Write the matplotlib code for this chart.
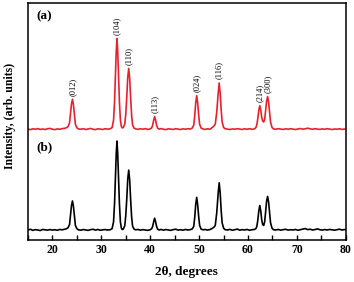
import matplotlib
matplotlib.use("Agg")
import matplotlib.pyplot as plt
from matplotlib.ticker import MultipleLocator

two_theta = [
    15.0, 15.5, 16.0, 16.5, 17.0, 17.5, 18.0, 18.5, 19.0, 19.5, 20.0, 20.5, 21.0, 21.5, 22.0, 22.5,
    22.9, 23.2, 23.5, 23.7, 23.9, 24.1, 24.3, 24.5, 24.7, 25.0, 25.3,
    25.8, 26.3, 26.8, 27.3, 27.8, 28.3, 28.8, 29.3, 29.8, 30.3, 30.8, 31.3, 31.8, 32.2,
    32.5, 32.7, 32.9, 33.05, 33.2, 33.35, 33.5, 33.7, 33.9, 34.1, 34.3, 34.5,
    34.8, 35.0, 35.2, 35.4, 35.6, 35.8, 36.0, 36.2, 36.4, 36.7, 37.0,
    37.5, 38.0, 38.5, 39.0, 39.5, 40.0, 40.3,
    40.5, 40.7, 40.9, 41.1, 41.3, 41.5, 41.8,
    42.2, 42.7, 43.2, 43.7, 44.2, 44.7, 45.2, 45.7, 46.2, 46.7, 47.2, 47.7, 48.2, 48.6,
    48.9, 49.1, 49.3, 49.5, 49.7, 49.9, 50.1, 50.4, 50.8,
    51.2, 51.7, 52.2, 52.6, 53.0, 53.3, 53.6, 53.9, 54.1, 54.3, 54.5, 54.7, 55.0, 55.3,
    55.8, 56.3, 56.8, 57.3, 57.8, 58.3, 58.8, 59.3, 59.8, 60.3, 60.8, 61.3, 61.6,
    61.8, 62.0, 62.2, 62.4, 62.6, 62.8, 63.0, 63.2, 63.4, 63.6, 63.8, 64.0, 64.2, 64.4, 64.6, 64.9, 65.2,
    65.7, 66.2, 66.7, 67.2, 67.7, 68.2, 68.7, 69.2, 69.7, 70.2, 70.7, 71.2, 71.7, 72.2, 72.7,
    73.2, 73.7, 74.2, 74.7, 75.2, 75.7, 76.2, 76.7, 77.2, 77.7, 78.2, 78.7, 79.2, 79.7, 80.0,
]

intensity_b = [
    11.0, 11.8, 10.6, 11.4, 11.0, 10.4, 11.6, 11.2, 10.8, 11.5, 10.9, 11.3, 10.7, 11.6, 11.2, 11.8,
    12.5, 13.5, 17.0, 27.0, 38.0, 43.0, 37.0, 26.0, 16.0, 12.5, 11.2,
    10.8, 11.5, 11.0, 10.6, 11.4, 11.8, 10.9, 11.6, 10.7, 11.2, 11.5, 10.9, 11.3, 12.5,
    20.0, 40.0, 70.0, 95.0, 109.0, 95.0, 70.0, 40.0, 20.0, 13.0, 11.5, 12.0,
    16.0, 27.0, 45.0, 67.0, 77.0, 66.0, 44.0, 25.0, 15.0, 12.0, 11.2,
    11.6, 10.8, 11.4, 11.0, 10.6, 11.3, 12.5,
    15.0, 20.0, 24.0, 20.0, 15.0, 12.0, 11.0,
    11.6, 10.8, 11.5, 11.1, 10.6, 11.4, 11.9, 10.9, 11.3, 10.8, 11.6, 11.0, 11.4, 12.2,
    15.0, 25.0, 39.0, 47.0, 39.0, 26.0, 16.0, 12.0, 11.2,
    11.6, 10.9, 11.5, 12.5, 14.0, 16.0, 30.0, 52.0, 63.0, 52.0, 33.0, 19.0, 13.0, 11.4,
    11.0, 11.7, 10.7, 11.3, 12.0, 10.8, 11.4, 11.0, 11.6, 10.7, 11.3, 11.6, 12.5,
    15.0, 22.0, 32.0, 38.0, 32.0, 22.0, 17.0, 16.0, 20.0, 32.0, 43.0, 48.0, 42.0, 30.0, 19.0, 13.0, 11.3,
    11.0, 11.6, 10.8, 11.4, 11.8, 10.9, 11.3, 11.0, 11.6, 10.7, 11.4, 12.0, 12.6, 11.4, 11.9,
    11.0, 11.5, 12.2, 11.3, 10.9, 11.5, 11.0, 11.6, 11.2, 10.8, 11.4, 11.9, 11.0, 11.5, 11.2,
]

intensity_a = [
    11.2, 10.6, 11.5, 11.0, 11.7, 10.8, 11.3, 10.7, 11.6, 11.9, 11.1, 10.6, 11.4, 11.0, 11.7, 12.0,
    12.8, 14.0, 18.0, 28.0, 39.0, 44.0, 38.0, 27.0, 16.5, 12.6, 11.4,
    11.0, 11.6, 10.7, 11.3, 11.9, 11.0, 10.6, 11.5, 11.2, 10.8, 11.6, 11.1, 11.5, 12.8,
    21.0, 41.0, 72.0, 97.0, 111.0, 97.0, 72.0, 41.0, 21.0, 14.0, 12.5, 13.0,
    17.0, 28.0, 46.0, 68.0, 78.0, 67.0, 45.0, 26.0, 15.5, 12.2, 11.4,
    10.9, 11.6, 11.0, 11.7, 10.8, 11.4, 12.6,
    15.5, 21.0, 25.0, 21.0, 15.5, 12.3, 11.2,
    11.7, 11.0, 10.6, 11.5, 11.2, 10.8, 11.6, 11.1, 10.7, 11.5, 11.0, 11.6, 11.2, 12.4,
    15.5, 26.0, 40.0, 48.0, 40.0, 27.0, 16.5, 12.3, 11.3,
    10.8, 11.5, 11.0, 12.6, 14.5, 16.5, 30.0, 51.0, 62.0, 51.0, 33.0, 19.0, 13.0, 11.6,
    11.2, 10.7, 11.4, 11.0, 11.6, 11.2, 10.8, 11.5, 11.0, 11.6, 10.9, 11.4, 12.8,
    16.0, 23.0, 32.0, 37.0, 32.0, 24.0, 20.0, 19.0, 22.0, 32.0, 42.0, 47.0, 41.0, 30.0, 19.0, 13.0, 11.4,
    11.0, 11.6, 11.2, 10.8, 11.5, 11.0, 11.6, 11.2, 10.7, 11.3, 11.8, 11.1, 11.5, 12.2, 11.4,
    11.0, 11.6, 11.2, 10.8, 11.4, 11.0, 11.6, 11.2, 10.7, 11.3, 11.0, 11.5, 10.9, 11.2, 11.0,
]

peak_labels = ["(012)", "(104)", "(110)", "(113)", "(024)", "(116)", "(214)", "(300)"]
peak_positions = [24.1, 33.2, 35.6, 40.9, 49.5, 54.1, 62.4, 64.0]

OFFSET_A = 111.0

plt.rcParams['font.family'] = ['Liberation Serif', 'DejaVu Serif']

fig = plt.figure(figsize=(3.54, 2.82), dpi=100)
ax = fig.add_axes([0.079, 0.149, 0.898, 0.840])

ya = [v + OFFSET_A for v in intensity_a]
ax.plot(two_theta, ya, color="#e8212b", lw=1.2)
ax.plot(two_theta, intensity_b, color="black", lw=1.2)

# hkl labels above the peaks of trace (a)
for lab, pos in zip(peak_labels, peak_positions):
    i = min(range(len(two_theta)), key=lambda k: abs(two_theta[k] - pos))
    top = max(ya[max(i - 2, 0):i + 3])
    ax.annotate(lab, (pos, top), xytext=(0, 2.5), textcoords="offset points",
                rotation=90, ha="center", va="bottom", fontsize=6)

ax.text(0.028, 0.945, "(a)", transform=ax.transAxes, fontsize=9.5,
        fontweight="bold", va="center")
ax.text(0.028, 0.39, "(b)", transform=ax.transAxes, fontsize=9.5,
        fontweight="bold", va="center")

ax.set_xlim(15, 80)
ax.set_ylim(0, 261)
ax.xaxis.set_major_locator(MultipleLocator(10))
ax.xaxis.set_minor_locator(MultipleLocator(5))
ax.set_yticks([])
ax.tick_params(axis="x", which="both", direction="in", length=3.5, width=1, pad=3)
for lbl in ax.get_xticklabels():
    lbl.set_fontweight("bold")
    lbl.set_fontsize(8.5)
for s in ax.spines.values():
    s.set_linewidth(1.1)

ax.set_xlabel("2θ, degrees", fontsize=9.5, fontweight="bold")
ax.xaxis.set_label_coords(0.5, -0.11)
ax.set_ylabel("Intensity, (arb. units)", fontsize=8.5, fontweight="bold")
ax.yaxis.set_label_coords(-0.038, 0.525)

fig.savefig("out.png", dpi=100)
